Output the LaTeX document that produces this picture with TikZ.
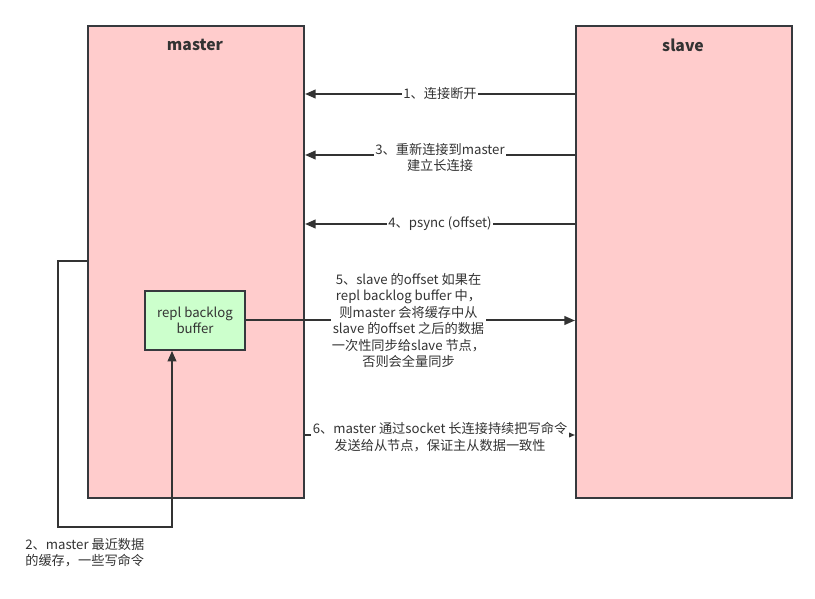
\documentclass[tikz,border=0pt]{standalone}
\usepackage{fontspec}
\setmainfont{Noto Sans CJK SC}
\usetikzlibrary{arrows.meta}
\definecolor{boxline}{RGB}{54,57,61}
\definecolor{serverred}{RGB}{255,204,204}
\definecolor{buffergreen}{RGB}{204,255,204}
\definecolor{inkgray}{RGB}{51,51,51}
\tikzset{every picture/.style={line width=1.5pt}}
\tikzset{
  server/.style={draw=boxline, fill=serverred, inner sep=0pt, anchor=north west, minimum width=162pt, minimum height=354pt},
  servertitle/.style={text=inkgray, font=\fontsize{11.8}{13}\selectfont\bfseries},
  bufferbox/.style={draw=boxline, fill=buffergreen, inner sep=0pt, minimum width=75pt, minimum height=44pt, align=center, text=inkgray, font=\fontsize{9.9}{12.3}\selectfont},
  msg/.style={fill=white, inner sep=1pt, align=center, text=inkgray, font=\fontsize{9.9}{12.3}\selectfont},
  flow/.style={draw=inkgray, -{Triangle[length=8pt,width=6.5pt]}}
}

\begin{document}
\begin{tikzpicture}[x=0.75pt,y=0.75pt,yscale=-1,xscale=1]
\path (0,0) rectangle (815,599); %picture frame

% servers
\node[server] (master) at (87,25) {};
\node[server] (slave) at (575,25) {};
\node[servertitle] (mastertitle) at (195,45) {master};
\node[servertitle] (slavetitle) at (683,45) {slave};

% buffer inside master
\node[bufferbox] (buffer) at (195,320.5) {repl backlog\\buffer};

% slave -> master
\draw[flow] (slave.west |- 0,94) -- node[msg] (msgone) {1、连接断开} (master.east |- 0,94);
\draw[flow] (slave.west |- 0,155) -- node[msg, yshift=-2pt] (msgthree) {3、重新连接到master\\建立长连接} (master.east |- 0,155);
\draw[flow] (slave.west |- 0,224) -- node[msg] (msgfour) {4、psync (offset)} (master.east |- 0,224);

% master -> slave
\draw[flow] (buffer.east) -- node[msg, xshift=-1.5pt] (msgfive) {5、slave 的offset 如果在\\repl backlog buffer 中，\\则master 会将缓存中从\\slave 的offset 之后的数据\\一次性同步给slave 节点，\\否则会全量同步} (slave.west |- buffer.east);
\draw[flow] (master.east |- 0,435) -- node[msg, yshift=-1.5pt] (msgsix) {6、master 通过socket 长连接持续把写命令\\发送给从节点，保证主从数据一致性} (slave.west |- 0,435);

% loop back into the buffer
\coordinate (looptop) at (58,261);
\coordinate (loopbottom) at (58,527);
\draw[flow] (master.west |- looptop) -- (looptop) -- (loopbottom) -- (172,527) -- (buffer.south -| 172,0);
\node[msg, anchor=north west, align=left, fill=none] (cachenote) at (23,536) {2、master 最近数据\\的缓存，一些写命令};

\end{tikzpicture}
\end{document}
